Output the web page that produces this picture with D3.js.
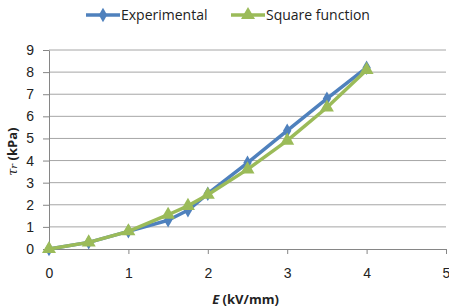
<!DOCTYPE html>
<html>
<head>
<meta charset="utf-8">
<script src="https://cdn.jsdelivr.net/npm/d3@7"></script>
<style>
body { margin: 0; background: #fff; }
svg { font-family: "Open Sans", "Liberation Sans", sans-serif; }
</style>
</head>
<body>
<div id="chart"></div>
<script>
// field strength (kV/mm)
const fieldValues = [0, 0.5, 1, 1.5, 1.75, 2, 2.5, 3, 3.5, 4];
// yield stress (kPa)
const experimental = [0, 0.3, 0.8, 1.3, 1.75, 2.5, 3.9, 5.35, 6.8, 8.2];
const squareFunction = [0, 0.3, 0.8, 1.55, 1.95, 2.45, 3.6, 4.9, 6.4, 8.1];
const seriesNames = ["Experimental", "Square function"];
const xTicks = [0, 1, 2, 3, 4, 5];
const yTicks = [0, 1, 2, 3, 4, 5, 6, 7, 8, 9];

const width = 449;
const height = 307;
const margin = { top: 50, right: 3, bottom: 58, left: 49 };

const colors = { "Experimental": "#4f81bd", "Square function": "#9bbb59" };

const svg = d3.select("#chart")
	.append("svg")
	.attr("width", width)
	.attr("height", height);

const x = d3.scaleLinear().domain([0, 5]).range([margin.left, width - margin.right]);
const y = d3.scaleLinear().domain([0, 9]).range([height - margin.bottom, margin.top]);

// horizontal gridlines
svg.append("g")
	.selectAll("line")
	.data(yTicks.filter((d) => d > 0))
	.enter()
	.append("line")
	.attr("x1", x(0))
	.attr("x2", x(5))
	.attr("y1", (d) => y(d))
	.attr("y2", (d) => y(d))
	.attr("stroke", "#a6a6a6")
	.attr("stroke-width", 1);

const yAxis = svg.append("g")
	.attr("transform", `translate(${x(0)},0)`)
	.call(d3.axisLeft(y).tickValues(yTicks).tickFormat(d3.format("d")).tickSize(6).tickPadding(9).tickSizeOuter(0));

const xAxis = svg.append("g")
	.attr("transform", `translate(0,${y(0)})`)
	.call(d3.axisBottom(x).tickValues(xTicks).tickFormat(d3.format("d")).tickSize(5).tickPadding(14).tickSizeOuter(0));

[xAxis, yAxis].forEach((ax) => {
	ax.select(".domain").attr("stroke", "#868686");
	ax.selectAll(".tick line").attr("stroke", "#868686");
	ax.selectAll("text").attr("font-size", 14).attr("fill", "#222");
});

// series
const seriesData = [
	{ name: seriesNames[0], values: experimental },
	{ name: seriesNames[1], values: squareFunction },
];

const line = d3.line()
	.x((d, i) => x(fieldValues[i]))
	.y((d) => y(d));

const diamond = d3.symbol().type(d3.symbolDiamond).size(60);
const triangle = d3.symbol().type(d3.symbolTriangle).size(85);

seriesData.forEach((s, k) => {
	const g = svg.append("g");
	g.append("path")
		.datum(s.values)
		.attr("fill", "none")
		.attr("stroke", colors[s.name])
		.attr("stroke-width", 3.5)
		.attr("stroke-linejoin", "round")
		.attr("d", line);
	g.selectAll("path.marker")
		.data(s.values)
		.enter()
		.append("path")
		.attr("class", "marker")
		.attr("transform", (d, i) => `translate(${x(fieldValues[i])},${y(d)})`)
		.attr("d", k === 0 ? diamond : triangle)
		.attr("fill", colors[s.name]);
});

// axis titles
svg.append("text")
	.attr("x", x(2.5) - 2)
	.attr("y", 304)
	.attr("text-anchor", "middle")
	.attr("font-size", 13)
	.attr("font-weight", "bold")
	.attr("fill", "#222")
	.html('<tspan font-style="italic">E</tspan> (kV/mm)');

svg.append("text")
	.attr("transform", `translate(17,${y(4.4)}) rotate(-90)`)
	.attr("text-anchor", "middle")
	.attr("font-size", 13)
	.attr("font-weight", "bold")
	.attr("fill", "#222")
	.html('<tspan font-style="italic" font-weight="normal" font-family="DejaVu Serif">τ</tspan><tspan font-style="italic" font-weight="normal" font-size="10" font-family="DejaVu Serif">r</tspan> (kPa)');

// legend
const legendItems = [
	{ name: seriesNames[0], x: 86, sym: diamond },
	{ name: seriesNames[1], x: 231, sym: triangle },
];
const legend = svg.append("g").attr("transform", "translate(0,15)");
legendItems.forEach((d) => {
	const item = legend.append("g").attr("transform", `translate(${d.x},0)`);
	item.append("line")
		.attr("x1", 0).attr("x2", 34)
		.attr("stroke", colors[d.name])
		.attr("stroke-width", 3.5);
	item.append("path")
		.attr("transform", "translate(17,0)")
		.attr("d", d.sym)
		.attr("fill", colors[d.name]);
	item.append("text")
		.attr("x", 35)
		.attr("y", 5)
		.attr("font-size", 14)
		.attr("fill", "#222")
		.text(d.name);
});
</script>
</body>
</html>
